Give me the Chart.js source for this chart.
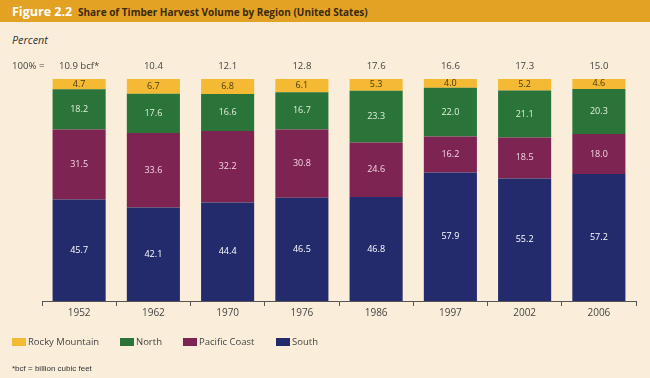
<!DOCTYPE html>
<html><head><meta charset="utf-8">
<script src="https://cdn.jsdelivr.net/npm/chart.js@4"></script>
<style>
html,body{margin:0;padding:0;}
body{width:650px;height:378px;background:#FAEEDA;position:relative;overflow:hidden;font-family:"Open Sans",sans-serif;}
#hdr{position:absolute;left:0;top:0;width:650px;height:22px;background:#E4A224;}
#fig{position:absolute;left:12px;top:3px;font-size:12.5px;font-weight:bold;color:#fff;}
#ttl{position:absolute;left:78px;top:5px;font-size:10px;font-weight:bold;color:#3a2a0c;}
#pct{position:absolute;left:12px;top:32px;font-size:10.8px;font-style:italic;color:#333;}
#c{position:absolute;left:0;top:0;}
.lg{position:absolute;top:335px;font-size:9.5px;color:#444;}
.sw{position:absolute;top:338px;width:14px;height:8px;}
#fn{position:absolute;left:12px;top:364px;font-size:8px;color:#333;font-family:"Liberation Sans Narrow","Liberation Sans",sans-serif;}
</style></head>
<body>
<div id="hdr"><span id="fig">Figure 2.2</span><span id="ttl">Share of Timber Harvest Volume by Region (United States)</span></div>
<div id="pct">Percent</div>
<canvas id="c" width="650" height="378"></canvas>
<div id="legend"></div>
<div id="fn">*bcf = billion cubic feet</div>
<script>
const years = ["1952","1962","1970","1976","1986","1997","2002","2006"];
const totalLabels = ["10.9 bcf*","10.4","12.1","12.8","17.6","16.6","17.3","15.0"];
const south = [45.7,42.1,44.4,46.5,46.8,57.9,55.2,57.2];
const pacificCoast = [31.5,33.6,32.2,30.8,24.6,16.2,18.5,18.0];
const north = [18.2,17.6,16.6,16.7,23.3,22.0,21.1,20.3];
const rockyMountain = [4.7,6.7,6.8,6.1,5.3,4.0,5.2,4.6];

const seriesNames = ["South","Pacific Coast","North","Rocky Mountain"];
const seriesData = [south,pacificCoast,north,rockyMountain];
const seriesColors = ["#232B6C","#7D2453","#2A7339","#F5BA33"];
const labelColors = ["#ffffff","#F5D6E4","#E6F0DC","#4A3A12"];

const legendOrder = [3,2,1,0];
const legendX = [12,120,183,276];
const lg = document.getElementById('legend');
legendOrder.forEach((si,i)=>{
  const s=document.createElement('div');s.className='sw';s.style.left=legendX[i]+'px';s.style.background=seriesColors[si];lg.appendChild(s);
  const t=document.createElement('div');t.className='lg';t.style.left=(legendX[i]+16)+'px';t.textContent=seriesNames[si];lg.appendChild(t);
});

const labelPlugin = {
  id:'labels',
  afterDatasetsDraw(chart){
    const ctx=chart.ctx;
    ctx.save();
    ctx.textAlign='center';ctx.textBaseline='middle';
    ctx.font='9px "Open Sans", sans-serif';
    chart.data.datasets.forEach((ds,di)=>{
      const meta=chart.getDatasetMeta(di);
      meta.data.forEach((bar,i)=>{
        const y=(bar.y+bar.base)/2;
        ctx.fillStyle=labelColors[di];
        ctx.fillText(ds.data[i].toFixed(1),bar.x,y);
      });
    });
    const xs=chart.scales.x;
    ctx.fillStyle='#444';
    ctx.font='9.6px "Open Sans", sans-serif';
    years.forEach((y,i)=>{
      ctx.fillText(totalLabels[i],xs.getPixelForValue(i),66);
    });
    ctx.textAlign='left';
    ctx.fillText('100% =',12,66);
    ctx.restore();
  }
};

new Chart(document.getElementById('c'),{
  type:'bar',
  data:{labels:years,datasets:seriesData.map((d,i)=>({label:seriesNames[i],data:d,backgroundColor:seriesColors[i],borderWidth:0,categoryPercentage:1,barPercentage:0.715}))},
  options:{
    responsive:false,animation:false,
    layout:{padding:{left:42,right:14,top:79,bottom:58}},
    plugins:{legend:{display:false},tooltip:{enabled:false}},
    scales:{
      x:{stacked:true,grid:{display:true,drawOnChartArea:false,tickLength:5,color:'#555',tickColor:'#555',tickWidth:1,offset:true},border:{color:'#555',width:1},
         ticks:{color:'#444',font:{family:'"Open Sans", sans-serif',size:10},padding:1}},
      y:{stacked:true,display:false,min:0,max:100}
    }
  },
  plugins:[labelPlugin]
});
</script>
</body></html>
